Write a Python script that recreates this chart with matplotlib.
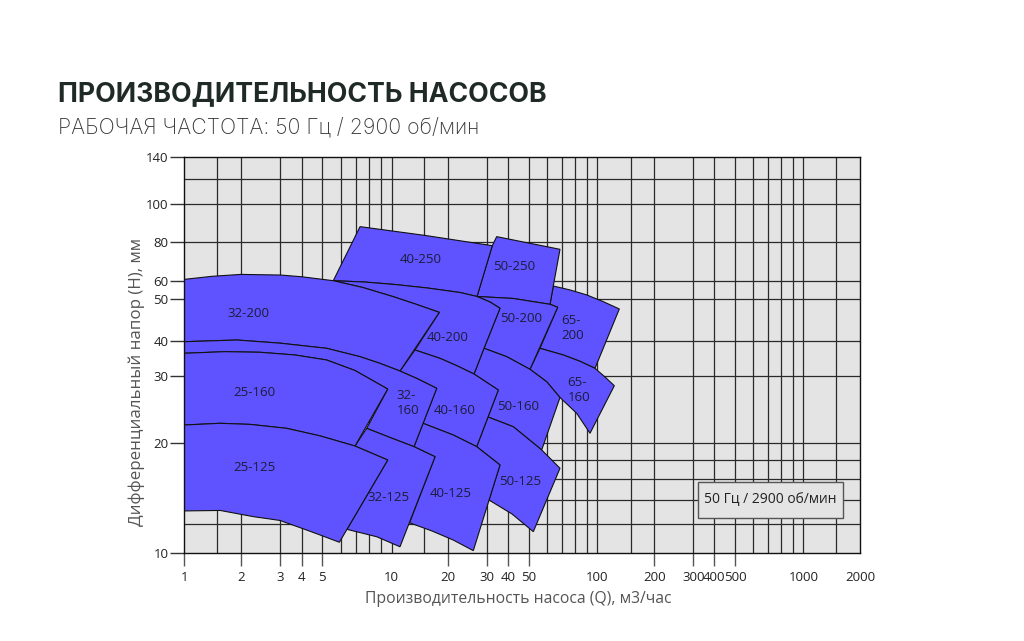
import numpy as np
import matplotlib.pyplot as plt
from matplotlib.patches import Polygon, Rectangle
from matplotlib.ticker import NullLocator

# контуры рабочих зон насосов: Q (м3/ч) и H (м)
q_25_125 = [1, 1.55, 2.2, 3.27, 4.88, 6.93, 9.61, 5.93, 5.03, 4.22, 2.99, 2.27, 1.55, 1]
h_25_125 = [22.32, 22.55, 22.4, 21.88, 20.91, 19.66, 18.0, 10.72, 11.15, 11.58, 12.3, 12.6, 13.1, 13.06]

q_25_160 = [1, 1.645, 2.433, 3.656, 5.22, 6.93, 9.61, 6.93, 4.88, 3.27, 2.2, 1.55, 1]
h_25_160 = [36.07, 36.55, 36.37, 35.57, 34.14, 31.31, 27.69, 19.66, 20.91, 21.88, 22.4, 22.55, 22.32]

q_32_125 = [7.79, 9.83, 13.18, 17.1, 11.08, 8.61, 6.4, 9.61, 6.93]
h_32_125 = [21.88, 20.71, 19.58, 18.38, 10.42, 11.1, 11.63, 18.0, 19.66]

q_32_160 = [1, 1.9, 2.99, 5.22, 7.29, 8.9, 11.08, 13.85, 17.46, 13.18, 9.83, 7.79,
            9.61, 6.93, 5.22, 3.656, 2.433, 1.645, 1]
h_32_160 = [39.67, 40.15, 39.2, 37.58, 35.08, 33.2, 31.18, 29.41, 27.81, 19.58, 20.71, 21.88,
            27.69, 31.31, 34.14, 35.57, 36.37, 36.55, 36.07]

q_32_200 = [1, 1.403, 2, 3.016, 4, 5.58, 7.51, 10.2, 13.68, 18.03,
            11.08, 8.9, 7.29, 5.22, 2.99, 1.9, 1]
h_32_200 = [60.6, 62.0, 62.9, 62.6, 61.8, 60, 56.1, 51.3, 48.6, 46.6,
            31.18, 33.2, 35.08, 37.58, 39.2, 40.15, 39.67]

q_40_125 = [14.73, 21.2, 27.04, 36.0, 26.1, 21.2, 16.47, 12.47, 17.1, 13.18]
h_40_125 = [22.55, 21.02, 19.58, 17.45, 10.17, 10.87, 11.51, 12.12, 18.38, 19.58]

q_40_160 = [13.34, 18.18, 22.03, 26.3, 35.17, 27.04, 21.2, 14.73, 17.46, 13.85, 11.08]
h_40_160 = [37.06, 34.6, 32.55, 30.42, 27.53, 19.58, 21.02, 22.55, 27.81, 29.41, 31.18]

q_40_200 = [5.58, 7.58, 10.42, 15.57, 22.73, 27.13, 31.39, 36.0, 29.17, 26.3,
            22.03, 18.18, 13.34, 18.03, 13.68, 10.2, 7.51]
h_40_200 = [60, 59.25, 57.8, 55.85, 53.45, 51.4, 49.28, 47.64, 37.58, 30.42,
            32.55, 34.6, 37.06, 46.6, 48.6, 51.3, 56.1]

q_40_250 = [7.29, 15.1, 32.39, 27.13, 22.73, 15.57, 10.42, 7.58, 5.58]
h_40_250 = [87.7, 83.3, 78.0, 51.4, 53.45, 55.85, 57.8, 59.25, 60]

q_50_125 = [30.54, 42.42, 56.88, 68.48, 52.24, 41.85, 30.97, 36.0, 27.04]
h_50_125 = [23.42, 22.09, 19.18, 17.09, 11.46, 12.81, 13.99, 17.45, 19.58]

q_50_160 = [29.17, 39.47, 50.5, 59.84, 68.48, 56.88, 42.42, 30.54, 35.17, 26.3]
h_50_160 = [37.58, 35.08, 31.62, 28.93, 26.32, 19.18, 22.09, 23.42, 27.53, 30.42]

q_50_200 = [27.13, 42.42, 61.88, 66.9, 50.5, 39.47, 29.17, 36.0, 31.39]
h_50_200 = [51.4, 50.4, 48.67, 47.9, 31.62, 35.08, 37.58, 47.64, 49.28]

q_50_250 = [34.4, 68.48, 63.98, 61.88, 42.42, 27.13, 32.39]
h_50_250 = [82.7, 75.9, 56.96, 48.67, 50.4, 51.4, 78.0]

q_65_160 = [55.9, 70.81, 83.9, 97.7, 109.8, 123, 92.87, 81.14, 68.48, 59.84, 50.5]
h_65_160 = [37.58, 35.57, 33.77, 31.88, 29.77, 28.25, 21.24, 23.94, 26.32, 28.93, 31.62]

q_65_200 = [63.98, 75.8, 89.8, 107.2, 130.7, 97.7, 83.9, 70.81, 55.9, 66.9, 61.88]
h_65_200 = [56.96, 54.8, 52.2, 49.4, 47.46, 31.88, 33.77, 35.57, 37.58, 47.9, 48.67]

# подписи зон
label_text = ['25-125', '25-160', '32-125', '32-\n160', '32-200', '40-125', '40-160',
              '40-200', '40-250', '50-125', '50-160', '50-200', '50-250', '65-\n160', '65-\n200']
label_q = [2.29, 2.29, 9.73, 12.2, 2.17, 20.7, 21.4, 20.0, 14.4, 45.5, 44.6, 46.0, 42.7, 83.1, 78.1]
label_h = [17.2, 27.2, 14.2, 25.5, 46.4, 14.6, 24.4, 40.8, 70.1, 15.7, 24.9, 45.2, 66.5, 27.5, 42.8]

# оси
x_ticks = [1, 2, 3, 4, 5, 10, 20, 30, 40, 50, 100, 200, 300, 400, 500, 1000, 2000]
y_ticks = [10, 20, 30, 40, 50, 60, 80, 100, 140]
x_grid = [1.5, 2, 3, 4, 5, 6, 7, 8, 9, 10, 15, 20, 30, 40, 50, 60, 70, 80, 90, 100,
          150, 200, 300, 400, 500, 600, 700, 800, 900, 1000, 1500]
y_grid = [12, 14, 16, 18, 20, 30, 40, 50, 60, 80, 100, 120]

# неравномерная шкала как на оригинале (позиции делений в пикселях)
X_POS = np.array([184.3, 241, 280.3, 301.7, 322.3, 391.7, 447.7, 486.7, 507.7, 529,
                  597.3, 654.3, 693.3, 714.3, 735.3, 803.3, 860])
Y_POS = -np.array([553.3, 443.3, 375.7, 340.7, 299.3, 280.7, 242.3, 204.3, 157.3])
lx = np.log10(x_ticks)
ly = np.log10(y_ticks)


def fwd_x(v):
    return np.interp(np.log10(np.clip(np.asarray(v, float), 1e-6, None)), lx, X_POS)


def inv_x(p):
    return 10 ** np.interp(p, X_POS, lx)


def fwd_y(v):
    return np.interp(np.log10(np.clip(np.asarray(v, float), 1e-6, None)), ly, Y_POS)


def inv_y(p):
    return 10 ** np.interp(p, Y_POS, ly)


BLUE = '#5f52ff'

fig = plt.figure(figsize=(10.24, 6.41), dpi=100)
ax = fig.add_axes([184.3 / 1024, 1 - 553.3 / 641, (860 - 184.3) / 1024, (553.3 - 157.3) / 641])
ax.set_xscale('function', functions=(fwd_x, inv_x))
ax.set_yscale('function', functions=(fwd_y, inv_y))
ax.set_xlim(1, 2000)
ax.set_ylim(10, 140)
ax.set_facecolor('#e4e4e4')

for g in x_grid:
    ax.axvline(g, color='#2a2a2a', lw=0.9, zorder=1)
for g in y_grid:
    ax.axhline(g, color='#2a2a2a', lw=0.9, zorder=1)

zones = [(q_65_200, h_65_200), (q_65_160, h_65_160), (q_50_250, h_50_250), (q_50_200, h_50_200),
         (q_50_160, h_50_160), (q_50_125, h_50_125), (q_40_250, h_40_250), (q_40_200, h_40_200),
         (q_40_160, h_40_160), (q_40_125, h_40_125), (q_32_200, h_32_200), (q_32_160, h_32_160),
         (q_32_125, h_32_125), (q_25_160, h_25_160), (q_25_125, h_25_125)]
for q, h in zones:
    ax.add_patch(Polygon(np.column_stack([q, h]), closed=True, facecolor=BLUE,
                         edgecolor='#111111', lw=0.8, zorder=3))

for t, q, h in zip(label_text, label_q, label_h):
    ax.text(q, h, t, ha='center', va='center', multialignment='left', fontsize=9.5,
            family='Open Sans', color='#1c1c3a', linespacing=1.15, zorder=4)

# рамка с подписью режима
ax.add_patch(Rectangle((0.760, 0.0891), 0.2146, 0.0909, transform=ax.transAxes,
                       facecolor='#e4e4e4', edgecolor='#555555', lw=1, zorder=5))
ax.text(0.867, 0.1346, '50 Гц / 2900 об/мин', transform=ax.transAxes, ha='center',
        va='center', fontsize=10, family='Open Sans', color='#222222', zorder=6)

ax.set_xticks(x_ticks)
ax.set_xticklabels([str(v) for v in x_ticks])
ax.set_yticks(y_ticks)
ax.set_yticklabels([str(v) for v in y_ticks])
ax.xaxis.set_minor_locator(NullLocator())
ax.yaxis.set_minor_locator(NullLocator())
ax.tick_params(axis='x', length=9, width=1, color='#555555', pad=4, labelsize=9.5, labelcolor='#222222')
ax.tick_params(axis='y', length=10, width=1, color='#333333', pad=1.5, labelsize=9.5, labelcolor='#222222')
for tk, v in zip(ax.xaxis.get_major_ticks(), x_ticks):
    if v in (10, 100, 1000, 2000):
        tk.tick1line.set_visible(False)
for lab in ax.get_xticklabels() + ax.get_yticklabels():
    lab.set_family('Open Sans')
for s in ax.spines.values():
    s.set_color('#111111')
    s.set_linewidth(1)
    s.set_zorder(6)

ax.set_xlabel('Производительность насоса (Q), м3/час', fontsize=11.3, family='Open Sans',
              color='#555555')
ax.set_ylabel('Дифференциальный напор (H), мм', fontsize=12.2, family='Open Sans',
              color='#555555')
ax.xaxis.set_label_coords(0.494, -0.095)
ax.yaxis.set_label_coords(-0.058, 0.433)

fig.text(58 / 1024, 1 - 101 / 641, 'ПРОИЗВОДИТЕЛЬНОСТЬ НАСОСОВ', fontsize=19.2,
         fontweight='bold', family='Inter', color='#1f2a27')
fig.text(58 / 1024, 1 - 133.5 / 641, 'РАБОЧАЯ ЧАСТОТА: 50 Гц / 2900 об/мин', fontsize=15.3,
         fontweight='light', family='Inter', color='#3a3a3a')

fig.savefig('out.png', dpi=100)
